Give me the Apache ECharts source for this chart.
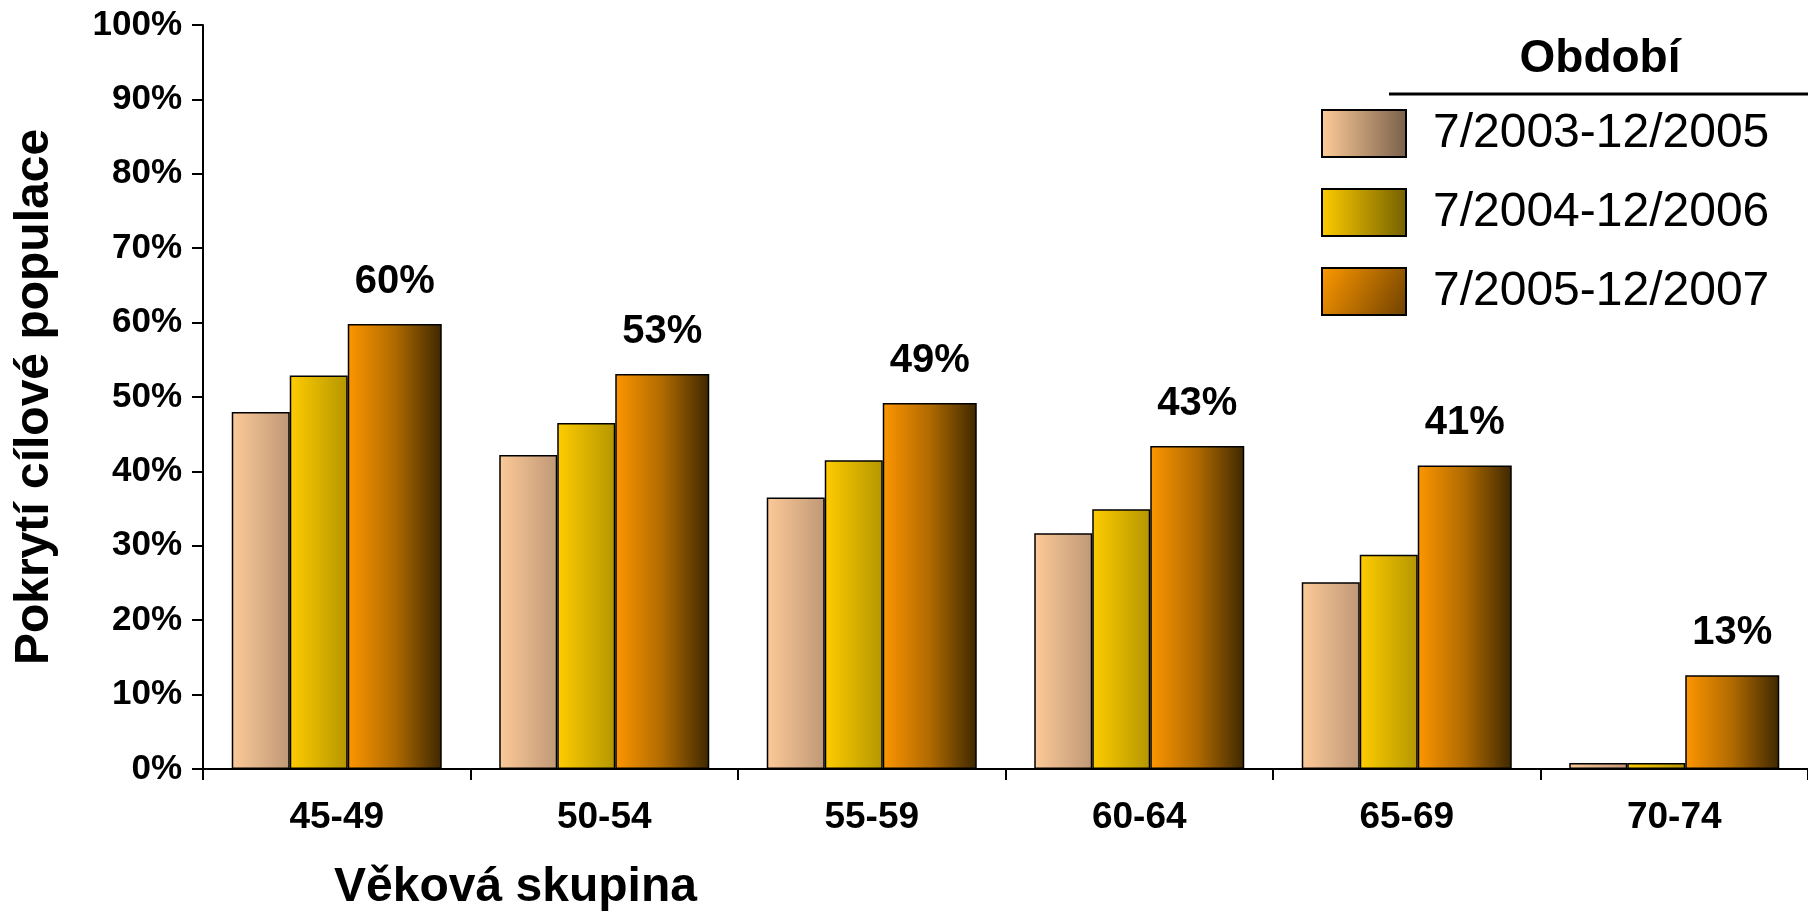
<!DOCTYPE html>
<html>
<head>
<meta charset="utf-8">
<script src="https://cdn.jsdelivr.net/npm/echarts@6/dist/echarts.min.js"></script>
<style>
html,body{margin:0;padding:0;background:#fff;}
#c{width:1808px;height:917px;}
</style>
</head>
<body>
<div id="c"></div>
<script>
const categories = ['45-49', '50-54', '55-59', '60-64', '65-69', '70-74'];
const seriesNames = ['7/2003-12/2005', '7/2004-12/2006', '7/2005-12/2007'];
const period2003 = [48.0, 42.2, 36.5, 31.7, 25.1, 0.8];
const period2004 = [52.9, 46.5, 41.5, 34.9, 28.8, 0.8];
const period2005 = [59.8, 53.1, 49.2, 43.4, 40.8, 12.6];
const yTicks = [0, 10, 20, 30, 40, 50, 60, 70, 80, 90, 100];
const legendTitle = 'Období';
const xTitle = 'Věková skupina';
const yTitle = 'Pokrytí cílové populace';

function hGrad(a, b) {
  return new echarts.graphic.LinearGradient(0, 0, 1, 0, [{offset: 0, color: a}, {offset: 1, color: b}]);
}

const chart = echarts.init(document.getElementById('c'), null, {renderer: 'canvas'});
const font = 'Liberation Sans, Arial, sans-serif';

const option = {
  animation: false,
  backgroundColor: '#ffffff',
  grid: {left: 203, right: 0, top: 25, bottom: 142, containLabel: false},
  xAxis: {
    type: 'category',
    data: categories,
    name: xTitle,
    nameLocation: 'middle',
    nameGap: 95,
    nameTextStyle: {fontFamily: font, fontWeight: 'bold', fontSize: 48, color: '#000', padding: [0, 980, 0, 0]},
    axisLine: {lineStyle: {color: '#000', width: 2}},
    axisTick: {show: true, alignWithLabel: false, length: 11, lineStyle: {color: '#000', width: 2}},
    axisLabel: {fontFamily: 'Liberation Sans Narrow, Liberation Sans, Arial, sans-serif', fontWeight: 'bold', fontSize: 37, color: '#000', margin: 30},
    splitLine: {show: false}
  },
  yAxis: {
    type: 'value',
    min: 0, max: 100, interval: 10,
    name: yTitle,
    nameLocation: 'middle',
    nameRotate: 90,
    nameGap: 144,
    nameTextStyle: {fontFamily: font, fontWeight: 'bold', fontSize: 48, color: '#000'},
    axisLine: {show: true, lineStyle: {color: '#000', width: 2}},
    axisTick: {show: true, inside: false, length: 11, lineStyle: {color: '#000', width: 2}},
    axisLabel: {fontFamily: font, fontWeight: 'bold', fontSize: 35, color: '#000', margin: 21,
      formatter: function (v) { return yTicks.indexOf(v) >= 0 ? v + '%' : ''; }},
    splitLine: {show: false}
  },
  legend: {
    orient: 'vertical',
    left: 1316,
    top: 104,
    itemWidth: 84,
    itemHeight: 47,
    itemGap: 30,
    icon: 'rect',
    textStyle: {fontFamily: font, fontSize: 48, color: '#000', padding: [0, 0, 0, 22], lineHeight: 47},
    data: [
      {name: seriesNames[0], itemStyle: {color: hGrad('#ffcc99', '#78604a'), borderColor: '#000', borderWidth: 2}},
      {name: seriesNames[1], itemStyle: {color: hGrad('#ffcc00', '#736000'), borderColor: '#000', borderWidth: 2}},
      {name: seriesNames[2], itemStyle: {color: new echarts.graphic.LinearGradient(0, 0, 1, 1, [{offset: 0, color: '#ff9900'}, {offset: 1, color: '#6e4000'}]), borderColor: '#000', borderWidth: 2}}
    ]
  },
  graphic: [
    {type: 'text', x: 1600, y: 59, style: {text: legendTitle, fontFamily: font, fontWeight: 'bold', fontSize: 46, fill: '#000', align: 'center', verticalAlign: 'middle'}},
    {type: 'line', shape: {x1: 1389, y1: 94, x2: 1808, y2: 94}, style: {stroke: '#000', lineWidth: 3}}
  ],
  series: [
    {
      name: seriesNames[0], type: 'bar', data: period2003, barWidth: 58, barGap: '0%',
      itemStyle: {color: hGrad('#fdca98', '#bf9877'), borderColor: '#000', borderWidth: 1.5}
    },
    {
      name: seriesNames[1], type: 'bar', data: period2004, barWidth: 58, barGap: '0%',
      itemStyle: {color: hGrad('#ffcc00', '#b49600'), borderColor: '#000', borderWidth: 1.5}
    },
    {
      name: seriesNames[2], type: 'bar', data: period2005, barWidth: 94, barGap: '0%',
      itemStyle: {color: new echarts.graphic.LinearGradient(0, 0, 1, 0, [{offset: 0, color: '#fe9600'}, {offset: 0.5, color: '#b06a00'}, {offset: 1, color: '#3e2800'}]), borderColor: '#000', borderWidth: 1.5},
      label: {show: true, position: 'top', distance: 22, fontFamily: font, fontWeight: 'bold', fontSize: 40, color: '#000',
        formatter: function (p) { return Math.round(p.value) + '%'; }}
    }
  ]
};
chart.setOption(option);
</script>
</body>
</html>
